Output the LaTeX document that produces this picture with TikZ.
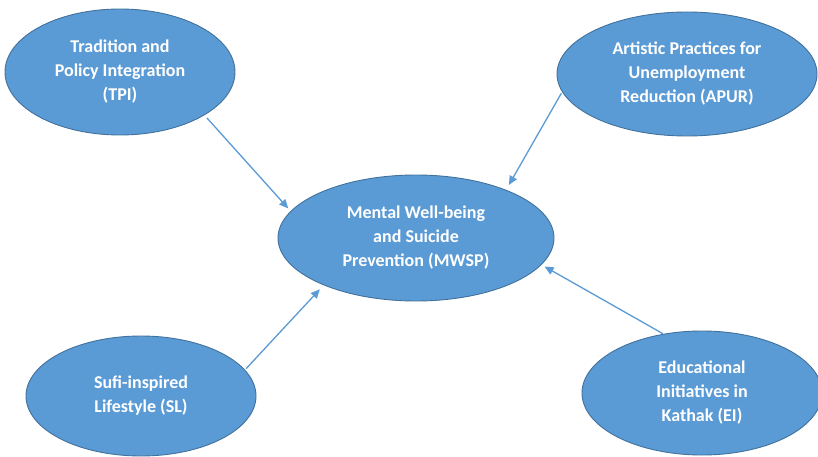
\documentclass[tikz,border=0pt]{standalone}
\usepackage{fontspec}
\setmainfont{Carlito}
\usetikzlibrary{shapes.geometric,arrows.meta}
\definecolor{bubblefill}{HTML}{5B9BD5}
\definecolor{bubbleedge}{HTML}{41719C}
\definecolor{linkblue}{HTML}{5B9BD5}
\begin{document}
\begin{tikzpicture}[x=1pt,y=-1pt,
  bubble/.style={ellipse, draw=bubbleedge, line width=0.9pt, fill=bubblefill,
    inner sep=0pt, outer sep=0pt, text=white, align=center,
    font=\fontsize{18}{24}\selectfont\bfseries},
  link/.style={draw=linkblue, line width=1.3pt,
    -{Triangle[length=9pt,width=8pt]}}]
\useasboundingbox (0,0) rectangle (818,457);
\clip (0,0) rectangle (818,457);
\fill[white] (0,0) rectangle (818,457);
% the five constructs
\node[bubble, minimum width=230pt, minimum height=126pt] (tpi) at (120,72)
  {Tradition and\\Policy Integration\\(TPI)};
\node[bubble, minimum width=260pt, minimum height=124pt] (apur) at (687,74)
  {Artistic Practices for\\Unemployment\\Reduction (APUR)};
\node[bubble, minimum width=276pt, minimum height=126pt] (mwsp) at (416,238)
  {Mental Well-being\\and Suicide\\Prevention (MWSP)};
\node[bubble, minimum width=230pt, minimum height=120pt] (sl) at (141,396)
  {Sufi-inspired\\Lifestyle (SL)};
\node[bubble, minimum width=240pt, minimum height=124pt] (ei) at (702,393)
  {Educational\\Initiatives in\\Kathak (EI)};
% paths into the outcome
\draw[link, shorten <=4pt, shorten >=4pt] (tpi.-27) -- (mwsp.168);
\draw[link, shorten <=2pt, shorten >=6pt] (apur.188) -- (mwsp.28);
\draw[link, shorten <=2pt, shorten >=6pt] (sl.14) -- (mwsp.207);
\draw[link, shorten <=1pt, shorten >=4pt] (ei.123) -- (mwsp.-12);
\end{tikzpicture}
\end{document}
